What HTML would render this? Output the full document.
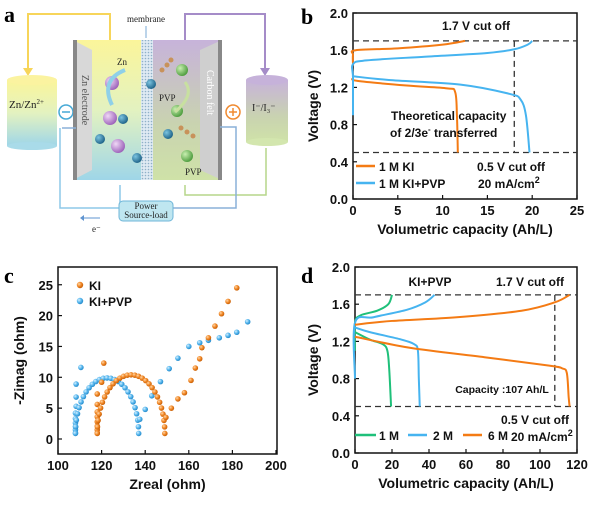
<!DOCTYPE html>
<html><head><meta charset="utf-8"><style>
body{margin:0;background:#fff;width:600px;height:503px;overflow:hidden}
text{font-family:"Liberation Sans",sans-serif}
.t{font-size:13px;font-weight:bold;fill:#111}
.n{font-size:12px;font-weight:bold;fill:#111}
.ax{font-size:14px;font-weight:bold;fill:#111}
.lab{font-family:"Liberation Serif",serif;font-weight:bold;font-size:22px}
.s{font-family:"Liberation Serif",serif;font-size:9px;fill:#222}
</style></head><body>
<svg id="s" width="600" height="503" viewBox="0 0 600 503" xmlns="http://www.w3.org/2000/svg">
<defs>
<linearGradient id="gy" x1="0" y1="0" x2="0" y2="1"><stop offset="0" stop-color="#fbf59a"/><stop offset="0.5" stop-color="#e3f2c0"/><stop offset="1" stop-color="#9fd6e8"/></linearGradient>
<linearGradient id="gp" x1="0" y1="0" x2="0" y2="1"><stop offset="0" stop-color="#c7b3da"/><stop offset="0.6" stop-color="#c9d3b0"/><stop offset="1" stop-color="#cfe2a8"/></linearGradient>
<radialGradient id="bo" cx="0.35" cy="0.35" r="0.7"><stop offset="0" stop-color="#ffd7a8"/><stop offset="0.5" stop-color="#f28a2a"/><stop offset="1" stop-color="#c45a00"/></radialGradient>
<radialGradient id="bb" cx="0.35" cy="0.35" r="0.7"><stop offset="0" stop-color="#d6f0ff"/><stop offset="0.5" stop-color="#5ab8ee"/><stop offset="1" stop-color="#1f86c8"/></radialGradient>
<radialGradient id="zn" cx="0.35" cy="0.35" r="0.7"><stop offset="0" stop-color="#f0d8f6"/><stop offset="1" stop-color="#9a5fb8"/></radialGradient>
<radialGradient id="kk" cx="0.35" cy="0.35" r="0.7"><stop offset="0" stop-color="#7cc4e0"/><stop offset="1" stop-color="#1a5f85"/></radialGradient>
<radialGradient id="ii" cx="0.35" cy="0.35" r="0.7"><stop offset="0" stop-color="#c8efb0"/><stop offset="1" stop-color="#4a9a3a"/></radialGradient>
<pattern id="mb" width="3" height="3" patternUnits="userSpaceOnUse"><rect width="3" height="3" fill="#dfeaf3"/><circle cx="1.5" cy="1.5" r="0.8" fill="#8fb0c8"/></pattern>
</defs>

<text x="4" y="22" class="lab">a</text>
<polyline points="110,40 110,14 28,14 28,72" fill="none" stroke="#f7d55a" stroke-width="2"/>
<polygon points="23,68 28,76 33,68" fill="#f7d55a"/>
<polyline points="185,40 185,14 265,14 265,72" fill="none" stroke="#a58cc8" stroke-width="2"/>
<polygon points="260,68 265,76 270,68" fill="#a58cc8"/>
<rect x="7" y="80" width="50" height="66" fill="url(#gy)"/>
<ellipse cx="32" cy="80" rx="25" ry="5" fill="#fbf3a0"/>
<ellipse cx="32" cy="146" rx="25" ry="4" fill="#a9dbe9"/>
<text x="9" y="108" style="font-family:'Liberation Serif',serif;font-size:11px;fill:#222">Zn/Zn<tspan dy="-4" font-size="7">2+</tspan></text>
<rect x="246" y="80" width="42" height="62" fill="url(#gp)"/>
<ellipse cx="267" cy="80" rx="21" ry="5" fill="#c6b2da"/>
<ellipse cx="267" cy="142" rx="21" ry="4" fill="#d3e6ae"/>
<text x="252" y="111" style="font-family:'Liberation Serif',serif;font-size:10px;fill:#222">I⁻/I₃⁻</text>
<circle cx="66" cy="112" r="7" fill="none" stroke="#46a9d6" stroke-width="1.5"/><line x1="62" y1="112" x2="70" y2="112" stroke="#46a9d6" stroke-width="1.5"/>
<circle cx="233" cy="112" r="7" fill="none" stroke="#f08a30" stroke-width="1.5"/><line x1="229" y1="112" x2="237" y2="112" stroke="#f08a30" stroke-width="1.5"/><line x1="233" y1="108" x2="233" y2="116" stroke="#f08a30" stroke-width="1.5"/>
<rect x="73" y="40" width="68" height="140" fill="url(#gy)"/>
<rect x="153" y="40" width="69" height="140" fill="url(#gp)"/>
<rect x="141" y="40" width="12" height="140" fill="url(#mb)"/>
<polygon points="73,40 92,50 92,170 73,180" fill="#d8d8d8"/><rect x="73" y="40" width="4" height="140" fill="#888"/>
<polygon points="222,40 200,50 200,170 222,180" fill="#cfcfcf"/><rect x="218" y="40" width="4" height="140" fill="#888"/>
<text transform="translate(82,75) rotate(90)" style="font-family:'Liberation Serif',serif;font-size:10px;fill:#555">Zn electrode</text>
<text transform="translate(207,70) rotate(90)" style="font-family:'Liberation Serif',serif;font-size:10px;fill:#fff">Carbon felt</text>
<text x="127" y="22" class="s">membrane</text><line x1="146" y1="26" x2="146" y2="38" stroke="#7aa8d6"/>
<text x="117" y="65" class="s" font-size="10">Zn</text>
<circle cx="112" cy="83" r="7" fill="url(#zn)"/><circle cx="110" cy="118" r="7" fill="url(#zn)"/><circle cx="118" cy="146" r="7" fill="url(#zn)"/>
<circle cx="123" cy="119" r="5" fill="url(#kk)"/><circle cx="100" cy="139" r="5" fill="url(#kk)"/><circle cx="137" cy="158" r="5" fill="url(#kk)"/><circle cx="151" cy="84" r="5" fill="url(#kk)"/><circle cx="168" cy="134" r="5" fill="url(#kk)"/>
<path d="M125,70 Q100,80 112,105" fill="none" stroke="#8fd0e8" stroke-width="4"/>
<circle cx="182" cy="70" r="6" fill="url(#ii)"/><circle cx="177" cy="111" r="6" fill="url(#ii)"/><circle cx="187" cy="156" r="6" fill="url(#ii)"/>
<path d="M185,82 Q195,95 175,112" fill="none" stroke="#c8e0a0" stroke-width="3"/>
<circle cx="162" cy="70" r="2.5" fill="#c8925a"/><circle cx="167" cy="65" r="2.5" fill="#c8925a"/><circle cx="171" cy="60" r="2.5" fill="#c8925a"/>
<circle cx="181" cy="128" r="2.5" fill="#c8925a"/><circle cx="187" cy="132" r="2.5" fill="#c8925a"/><circle cx="193" cy="136" r="2.5" fill="#c8925a"/>
<text x="159" y="101" class="s" font-size="8">PVP</text><text x="185" y="175" class="s" font-size="8">PVP</text>
<polyline points="60,128 60,208 120,208 120,185" fill="none" stroke="#8ec8e8" stroke-width="1.5"/>
<polyline points="266,148 266,195 185,195 185,185" fill="none" stroke="#b6d68a" stroke-width="1.5"/>
<polyline points="220,127 236,127 236,208 172,208" fill="none" stroke="#8ab0d8" stroke-width="1.5"/>
<polyline points="62,128 76,128" fill="none" stroke="#8ab0d8" stroke-width="1.5"/>
<rect x="119" y="201" width="54" height="20" rx="4" fill="#bfe6f0" stroke="#6fb6d8"/>
<text x="146" y="209" class="s" text-anchor="middle" font-size="8">Power</text><text x="146" y="218" class="s" text-anchor="middle" font-size="8">Source-load</text>
<line x1="84" y1="218" x2="100" y2="218" stroke="#5f94d0"/><polygon points="84,215 80,218 84,221" fill="#5f94d0"/>
<text x="92" y="232" class="s">e⁻</text>

<text x="301" y="24" class="lab">b</text>
<text x="4" y="283" class="lab">c</text>
<text x="301" y="283" class="lab">d</text>
</svg>
<script>
const S=document.getElementById('s');const NS='http://www.w3.org/2000/svg';
function el(t,a,txt){const e=document.createElementNS(NS,t);for(const k in a)e.setAttribute(k,a[k]);if(txt!=null)e.textContent=txt;S.appendChild(e);return e;}
function txt(x,y,s,cls,anchor,extra){const e=el('text',Object.assign({x,y,'class':cls,'text-anchor':anchor||'start'},extra||{}));e.innerHTML=s;return e;}
function smooth(pts){let d='M'+pts[0][0]+','+pts[0][1];for(let i=1;i<pts.length;i++){const p0=pts[Math.max(0,i-2)],p1=pts[i-1],p2=pts[i],p3=pts[Math.min(pts.length-1,i+1)];const c1=[p1[0]+(p2[0]-p0[0])/6,p1[1]+(p2[1]-p0[1])/6],c2=[p2[0]-(p3[0]-p1[0])/6,p2[1]-(p3[1]-p1[1])/6];d+=`C${c1[0]},${c1[1]} ${c2[0]},${c2[1]} ${p2[0]},${p2[1]}`;}return d;}
function axes(L,R,T,B,xt,yt,X,Y,xl,yl,ylx){
 el('rect',{x:L,y:T,width:R-L,height:B-T,fill:'none',stroke:'#111','stroke-width':1.5});
 xt.forEach(v=>{const x=X(v);el('line',{x1:x,x2:x,y1:B,y2:B-4,stroke:'#111','stroke-width':1.2});txt(x,B+16,v,'t','middle');});
 yt.forEach(v=>{const y=Y(v);el('line',{x1:L,x2:L+4,y1:y,y2:y,stroke:'#111','stroke-width':1.2});txt(L-5,y+5,yt.dec?v.toFixed(1):v,'t','end');});
 txt((L+R)/2,B+35,xl,'ax','middle');
 el('text',{transform:`translate(${ylx},${(T+B)/2}) rotate(-90)`,'class':'ax','text-anchor':'middle'},yl);
}
function line(pts,X,Y,c,w){el('path',{d:smooth(pts.map(p=>[X(p[0]),Y(p[1])])),fill:'none',stroke:c,'stroke-width':w||2});}
function dash(x1,y1,x2,y2){el('line',{x1,y1,x2,y2,stroke:'#333','stroke-width':1.3,'stroke-dasharray':'6,4'});}
const O='#f47b14',Bl='#46b4f0',G='#1fc07a';
{const X=v=>353+8.96*v,Y=v=>199-93*v;const yt=[0,0.4,0.8,1.2,1.6,2.0];yt.dec=1;
axes(353,577,13,199,[0,5,10,15,20,25],yt,X,Y,'Volumetric capacity (Ah/L)','Voltage (V)',318);
dash(353,Y(1.7),577,Y(1.7));dash(353,Y(0.5),577,Y(0.5));dash(X(18),Y(1.7),X(18),Y(0.5));
line([[0,1.45],[0,1.55],[0.3,1.6],[5,1.62],[10,1.66],[12.5,1.7]],X,Y,O);
line([[0,1.3],[0.5,1.27],[6,1.22],[10.5,1.19],[11.4,1.15],[11.6,0.9],[11.7,0.5]],X,Y,O);
line([[0,0.9],[0,1.3],[0,1.45],[1.5,1.49],[8,1.53],[15,1.57],[18,1.61],[19.5,1.66],[20,1.7]],X,Y,Bl);
line([[0,1.32],[4,1.28],[12,1.23],[17.5,1.13],[18.7,1.07],[19.3,0.9],[19.7,0.5]],X,Y,Bl);
txt(476,30,'1.7 V cut off','n','middle');
txt(391,120,'Theoretical capacity','n','start');txt(390,137,'of 2/3e<tspan dy="-5" font-size="8">-</tspan><tspan dy="5"> transferred</tspan>','n','start');
txt(477,171,'0.5 V cut off','n','start');txt(478,188,'20 mA/cm<tspan dy="-5" font-size="9">2</tspan>','n','start');
el('line',{x1:356,x2:375,y1:166,y2:166,stroke:O,'stroke-width':2.5});txt(379,171,'1 M KI','n');
el('line',{x1:356,x2:375,y1:183,y2:183,stroke:Bl,'stroke-width':2.5});txt(379,188,'1 M KI+PVP','n');}
{const X=v=>355+1.85*v,Y=v=>453-93*v;const yt=[0,0.4,0.8,1.2,1.6,2.0];yt.dec=1;
axes(355,577,267,453,[0,20,40,60,80,100,120],yt,X,Y,'Volumetric capacity (Ah/L)','Voltage (V)',318);
dash(355,Y(1.7),577,Y(1.7));dash(355,Y(0.5),577,Y(0.5));dash(X(108),Y(1.7),X(108),Y(0.5));
line([[0,1.1],[0,1.4],[3,1.48],[12,1.53],[18,1.6],[20,1.7]],X,Y,G);
line([[0,1.3],[8,1.22],[15,1.17],[17.5,1.1],[18.5,0.9],[19.5,0.5]],X,Y,G);
line([[0,0.8],[0,1.4],[10,1.46],[28,1.54],[38,1.62],[43,1.7]],X,Y,Bl);
line([[0,1.35],[8,1.3],[25,1.22],[32,1.17],[34,1.1],[34.5,0.8],[35,0.5]],X,Y,Bl);
line([[0,1.38],[20,1.42],[55,1.46],[90,1.53],[108,1.62],[116,1.7]],X,Y,O);
line([[0,1.25],[30,1.13],[70,1.03],[105,0.94],[112,0.91],[114.5,0.86],[115.5,0.6],[116,0.5]],X,Y,O);
txt(430,286,'KI+PVP','n','middle');txt(530,286,'1.7 V cut off','n','middle');
txt(502,393,'Capacity :107 Ah/L','n','middle',{style:'font-size:10.5px'});
txt(535,424,'0.5 V cut off','n','middle');txt(511,441,'20 mA/cm<tspan dy="-5" font-size="9">2</tspan>','n','start');
el('line',{x1:355,x2:376,y1:435,y2:435,stroke:G,'stroke-width':2.5});txt(379,440,'1 M','n');
el('line',{x1:408,x2:427,y1:435,y2:435,stroke:Bl,'stroke-width':2.5});txt(433,440,'2 M','n');
el('line',{x1:463,x2:482,y1:435,y2:435,stroke:O,'stroke-width':2.5});txt(488,440,'6 M','n');}
{const X=v=>58+2.18*(v-100),Y=v=>439-6.17*v;
axes(58,277,267,454,[100,120,140,160,180,200],[0,5,10,15,20,25],X,Y,'Zreal (ohm)','-Zimag (ohm)',24);
function dot(z,i,c){el('circle',{cx:X(z),cy:Y(i),r:2.8,fill:c});}
function semi(a,b,h,n,c){const cx=(a+b)/2,r=(b-a)/2;for(let k=0;k<=n;k++){const t=Math.PI*k/n;const z=cx-r*Math.cos(t),i=h*Math.sin(t)+0.9;dot(z,i,c);}}
function tail(p,n,c){for(let j=0;j<p.length-1;j++)for(let k=0;k<n;k++){const t=k/n;dot(p[j][0]+(p[j+1][0]-p[j][0])*t,p[j][1]+(p[j+1][1]-p[j][1])*t,c);}dot(p[p.length-1][0],p[p.length-1][1],c);}
const cb='url(#bb)',co='url(#bo)';
[1,1.5,2,2.6,3.3,4.2,5.3,6.8,8.9].forEach(i=>dot(108+(i>5?0.3:0),i,cb));dot(110.5,11.6,cb);
semi(108,137,9,26,cb);
tail([[137.5,3.2],[140,4.8],[143,7],[147,9.3],[151,11.4],[155,13.1],[160,15],[165,15.6],[169,16],[174,16.4],[178,16.8],[182,17.3],[187,19]],1,cb);
[1,1.5,2.1,2.8,3.6,4.4,5.6,7.3].forEach(i=>dot(118,i,co));dot(120,9.2,co);dot(121,12.3,co);
semi(118,149,9.5,28,co);
tail([[149.5,3.5],[152,5],[155,6.5],[158,7.5],[161,9.5],[163,11.5],[165,13],[166,14.8],[169,16.4],[172,18.3],[175,20.3],[178,22.3],[182,24.5]],1,co);
el('circle',{cx:80,cy:285,r:3.2,fill:co});txt(89,290,'KI','n');
el('circle',{cx:80,cy:301,r:3.2,fill:cb});txt(89,306,'KI+PVP','n');}
</script>
</body></html>
